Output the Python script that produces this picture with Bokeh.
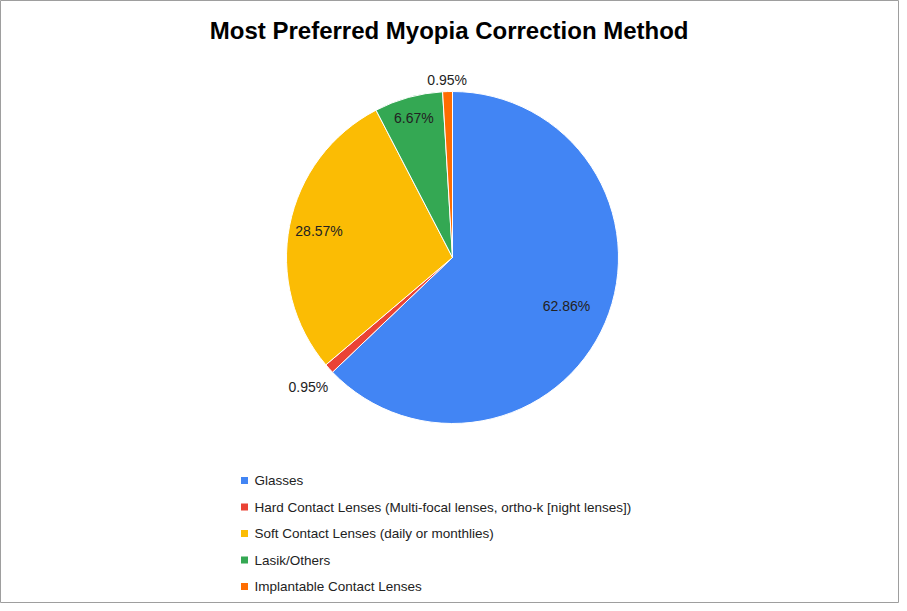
import numpy as np
from bokeh.plotting import figure
from bokeh.models import Range1d, ColumnDataSource
from bokeh.core.properties import value
from bokeh.embed import file_html
from bokeh.resources import INLINE

categories = ["Glasses",
              "Hard Contact Lenses (Multi-focal lenses, ortho-k [night lenses])",
              "Soft Contact Lenses (daily or monthlies)",
              "Lasik/Others",
              "Implantable Contact Lenses"]
shares = [62.86, 0.95, 28.57, 6.67, 0.95]
colors = ["#4285f4", "#ea4335", "#fbbc04", "#34a853", "#ff6d01"]
label_dist = [124, 194, 136, 145, 178]

W, H = 899, 603
p = figure(width=W, height=H, output_backend="svg", toolbar_location=None,
           x_range=Range1d(0, W), y_range=Range1d(0, H))
p.axis.visible = False
p.grid.visible = False
p.outline_line_color = "#9e9e9e"
p.min_border = 0

cx, cy, r = 452, H - 257, 166
frac = np.array(shares) / sum(shares)
cum = np.concatenate([[0], np.cumsum(frac)])
start = np.pi / 2 - cum[:-1] * 2 * np.pi
end = np.pi / 2 - cum[1:] * 2 * np.pi
src = ColumnDataSource(dict(start=start, end=end, color=colors))
p.wedge(x=cx, y=cy, radius=r, start_angle="start", end_angle="end",
        direction="clock", fill_color="color", line_color="white", line_width=1,
        source=src)

mid = (start + end) / 2
lx = cx + np.cos(mid) * np.array(label_dist)
ly = cy + np.sin(mid) * np.array(label_dist)
p.text(x=lx, y=ly, text=[f"{s:.2f}%" for s in shares], text_align="center",
       text_baseline="middle", text_font=value("Liberation Sans"),
       text_font_size="14px", text_color="#222222")

p.text(x=[452], y=[H - 30], text=["Most Preferred  Myopia Correction Method"],
       text_align="center", text_baseline="middle",
       text_font=value("Liberation Sans"), text_font_size="24px",
       text_font_style="bold", text_color="#000000")

ys = [H - 480 - i * 26.5 for i in range(len(categories))]
p.rect(x=[244] * len(categories), y=ys, width=7, height=7,
       fill_color=colors, line_color=None)
p.text(x=[254] * len(categories), y=ys, text=categories, text_baseline="middle",
       text_font=value("Liberation Sans"), text_font_size="13.5px",
       text_color="#222222")

open("out.html", "w").write(file_html(p, INLINE))
